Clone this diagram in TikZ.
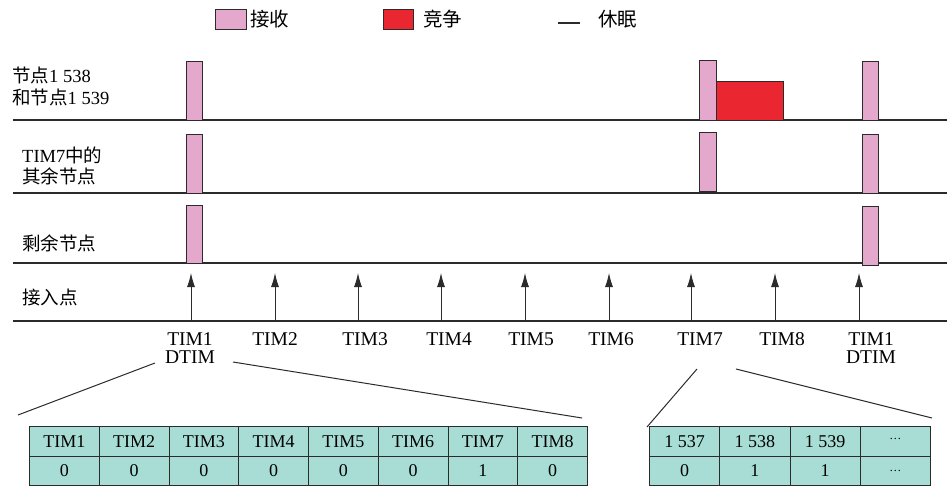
\documentclass[tikz,border=0pt]{standalone}
\usepackage{fontspec}
\setmainfont{Liberation Serif}
\newfontfamily\cjk{Noto Sans CJK SC}
\usetikzlibrary{arrows.meta}
\definecolor{rcvpink}{HTML}{E4A8CC}
\definecolor{conred}{HTML}{EA2630}
\definecolor{cellteal}{HTML}{A8DDD6}
\definecolor{ink}{HTML}{2B2B2B}
\begin{document}
\begin{tikzpicture}[x=1pt,y=-1pt,
  rowline/.style={draw=ink,line width=1.1pt},
  rcvbar/.style={draw=ink,fill=rcvpink,line width=0.9pt},
  conbar/.style={draw=ink,fill=conred,line width=0.9pt},
  apar/.style={-{Latex[length=14pt,width=8pt]},draw=ink,line width=0.9pt},
  rowlab/.style={anchor=west,align=left,inner sep=0,font=\fontsize{18.5}{21.5}\selectfont},
  timlab/.style={anchor=base,inner sep=0,font=\fontsize{19.5}{18}\selectfont},
  cell/.style={draw=ink,fill=cellteal,line width=0.9pt,minimum width=69.75pt,minimum height=29.5pt,anchor=north west,inner sep=0,font=\fontsize{18}{18}\selectfont},
  rcell/.style={cell,minimum width=70.25pt},
  zoomline/.style={draw=ink,line width=1pt},
  legtext/.style={anchor=west,inner sep=0,font=\cjk\fontsize{19.5}{20}\selectfont}
]
\useasboundingbox (0,0) rectangle (947,486);

% legend
\draw[rcvbar] (215,9) rectangle (246,29);
\node[legtext] (lg1) at (250,19.5) {接收};
\draw[conbar] (383,9) rectangle (413,29);
\node[legtext] (lg2) at (423,19.5) {竞争};
\coordinate (ls1) at (558,23);
\coordinate (ls2) at (580,23);
\draw[rowline] (ls1) -- (ls2);
\node[legtext] (lg3) at (598,19.5) {休眠};

% row lines
\foreach \yy in {120,193,263,321} \draw[rowline] (13,\yy) -- (947,\yy);

% row labels
\node[rowlab] (r1) at (12,86.5) {{\cjk 节点}1 538\\{\cjk 和节点}1 539};
\node[rowlab] (r2) at (22,166) {TIM7{\cjk 中的}\\{\cjk 其余节点}};
\node[rowlab] (r3) at (22,243) {\cjk 剩余节点};
\node[rowlab] (r4) at (22,297) {\cjk 接入点};

% bars row 1
\draw[rcvbar] (186,61) rectangle (202,120);
\draw[rcvbar] (699,60) rectangle (716,120);
\draw[conbar] (716,81) rectangle (783,120);
\draw[rcvbar] (862,61) rectangle (878,120);
% bars row 2
\draw[rcvbar] (186,134) rectangle (202,193);
\draw[rcvbar] (699,132) rectangle (716,191);
\draw[rcvbar] (862,134) rectangle (878,193);
% bars row 3
\draw[rcvbar] (186,205) rectangle (202,263);
\draw[rcvbar] (862,206) rectangle (878,265);

% access point arrows
\foreach \n/\xx in {1/191,2/275,3/358,4/441,5/525,6/609,7/691,8/775,9/859}{
  \coordinate (ab\n) at (\xx,321);
  \coordinate (at\n) at (\xx,273);
  \draw[apar] (ab\n) -- (at\n);
}

% labels
\node[timlab] (t1) at (190,345) {TIM1};
\node[timlab] (d1) at (190,363) {DTIM};
\node[timlab] (t2) at (275,345) {TIM2};
\node[timlab] (t3) at (365,345) {TIM3};
\node[timlab] (t4) at (449,345) {TIM4};
\node[timlab] (t5) at (531,345) {TIM5};
\node[timlab] (t6) at (611,345) {TIM6};
\node[timlab] (t7) at (700,345) {TIM7};
\node[timlab] (t8) at (782,345) {TIM8};
\node[timlab] (t9) at (871,345) {TIM1};
\node[timlab] (d9) at (871,363) {DTIM};

% left table
\foreach \i/\lab/\val in {0/TIM1/0,1/TIM2/0,2/TIM3/0,3/TIM4/0,4/TIM5/0,5/TIM6/0,6/TIM7/1,7/TIM8/0}{
  \node[cell] (h\i) at ({29+69.75*\i},426) {\lab};
  \node[cell] (v\i) at ({29+69.75*\i},455.5) {\val};
}
% right table
\foreach \i/\lab/\val in {0/1 537/0,1/1 538/1,2/1 539/1}{
  \node[rcell] (rh\i) at ({649+70.25*\i},426) {\lab};
  \node[rcell] (rv\i) at ({649+70.25*\i},455.5) {\val};
}
\node[rcell] (rh3) at ({649+70.25*3},426) {\raisebox{0.3em}{\fontsize{12}{12}\selectfont…}};
\node[rcell] (rv3) at ({649+70.25*3},455.5) {\fontsize{12}{12}\selectfont…};

% zoom lines
\coordinate (zl1) at (155,363);
\coordinate (zl2) at (18,415);
\coordinate (zr1) at (233,362);
\coordinate (zr2) at (582,418);
\draw[zoomline] (zl1) -- (zl2);
\draw[zoomline] (zr1) -- (zr2);
\coordinate (yl1) at (697,369);
\coordinate (yl2) at (647,427);
\coordinate (yr1) at (736,369);
\coordinate (yr2) at (932,418);
\draw[zoomline] (yl1) -- (yl2);
\draw[zoomline] (yr1) -- (yr2);
\end{tikzpicture}
\end{document}
